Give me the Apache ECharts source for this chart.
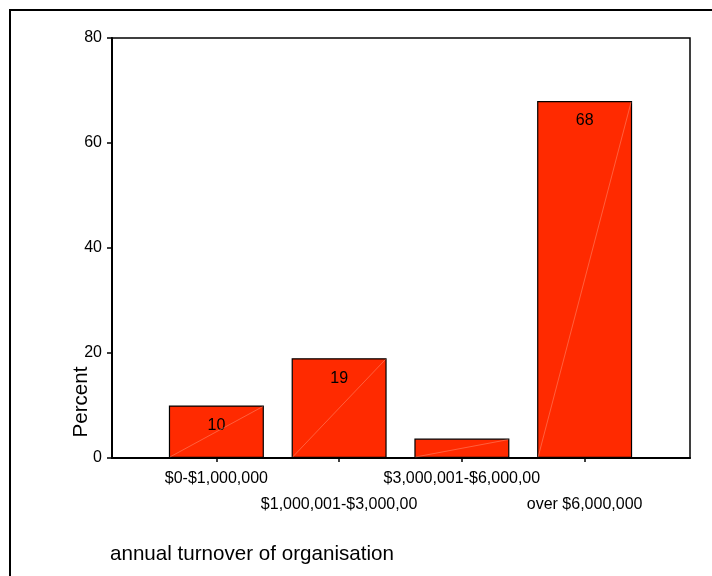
<!DOCTYPE html>
<html>
<head>
<meta charset="utf-8">
<script src="https://cdn.jsdelivr.net/npm/echarts@6/dist/echarts.min.js"></script>
<style>
  html, body { margin: 0; padding: 0; background: #fff; }
  #chart { width: 712px; height: 576px; }
</style>
</head>
<body>
<div id="chart"></div>
<script>
// Annual turnover of organisation, percent of respondents
var categories = ['$0-$1,000,000', '$1,000,001-$3,000,00', '$3,000,001-$6,000,00', 'over $6,000,000'];
var percents = [10, 19, 3.7, 68];
var showLabel = [true, true, false, true];
var yTicks = [0, 20, 40, 60, 80];

var FONT = '"Liberation Sans", Arial, sans-serif';
var BAR_COLOR = '#ff2a00';

var chart = echarts.init(document.getElementById('chart'), null, { renderer: 'canvas' });

chart.setOption({
  animation: false,
  backgroundColor: '#fff',
  textStyle: { fontFamily: FONT },
  title: {
    text: 'annual turnover of organisation',
    left: 110,
    top: 544,
    padding: 0,
    textStyle: { fontFamily: FONT, fontSize: 20.6, fontWeight: 'normal', color: '#000' }
  },
  graphic: [
    {
      type: 'rect',
      shape: { x: 10, y: 10, width: 720, height: 620 },
      style: { fill: null, stroke: '#000', lineWidth: 2 },
      silent: true
    },
    {
      type: 'text',
      x: 81,
      y: 402,
      rotation: Math.PI / 2,
      style: {
        text: 'Percent',
        font: '20.6px ' + FONT,
        fill: '#000',
        align: 'center',
        verticalAlign: 'middle'
      }
    }
  ],
  grid: [
    // frame of the plotting area
    { left: 112, right: 22, top: 38, bottom: 118, show: true, borderColor: '#000', borderWidth: 1.5, backgroundColor: 'transparent' },
    // band layout for the bars
    { left: 155, width: 491, top: 38, bottom: 118 }
  ],
  xAxis: [
    {
      gridIndex: 0,
      type: 'category',
      data: [''],
      axisLine: { show: true, lineStyle: { color: '#000', width: 2 } },
      axisTick: { show: false },
      axisLabel: { show: false },
      splitLine: { show: false }
    },
    {
      gridIndex: 1,
      type: 'category',
      data: categories,
      axisLine: { show: false },
      axisTick: { show: true, alignWithLabel: true, length: 4, lineStyle: { color: '#000', width: 1.5 } },
      axisLabel: {
        interval: 0,
        margin: 8,
        color: '#000',
        fontFamily: FONT,
        fontSize: 16,
        lineHeight: 26,
        formatter: function (v, i) { return i % 2 === 1 ? '\n' + v : v; }
      },
      splitLine: { show: false }
    }
  ],
  yAxis: [
    {
      gridIndex: 0,
      type: 'value',
      min: 0,
      max: 80,
      interval: 20,
      axisLine: { show: true, lineStyle: { color: '#000', width: 2 } },
      axisTick: { show: true, length: 5, lineStyle: { color: '#000', width: 1.5 } },
      axisLabel: {
        margin: 10,
        color: '#000',
        fontFamily: FONT,
        fontSize: 16,
        customValues: yTicks
      },
      splitLine: { show: false }
    },
    {
      gridIndex: 1,
      type: 'value',
      min: 0,
      max: 80,
      interval: 20,
      show: false
    }
  ],
  series: [
    {
      type: 'bar',
      xAxisIndex: 1,
      yAxisIndex: 1,
      data: percents,
      barWidth: 95,
      itemStyle: { color: BAR_COLOR, borderColor: '#000', borderWidth: 1.2 },
      label: {
        show: true,
        position: 'insideTop',
        distance: 12,
        color: '#000',
        fontFamily: FONT,
        fontSize: 16,
        formatter: function (p) { return showLabel[p.dataIndex] ? String(p.value) : ''; }
      },
      z: 2
    },
    {
      // faint diagonal highlight across each bar
      type: 'custom',
      xAxisIndex: 1,
      yAxisIndex: 1,
      data: percents.map(function (v, i) { return [i, v]; }),
      silent: true,
      z: 3,
      renderItem: function (params, api) {
        var base = api.coord([api.value(0), 0]);
        var top = api.coord([api.value(0), api.value(1)]);
        var half = 95 / 2;
        return {
          type: 'line',
          shape: { x1: base[0] - half + 1, y1: base[1] - 1, x2: top[0] + half - 1, y2: top[1] + 1 },
          style: { stroke: 'rgba(255,190,170,0.6)', lineWidth: 0.6 }
        };
      }
    }
  ]
});
</script>
</body>
</html>
